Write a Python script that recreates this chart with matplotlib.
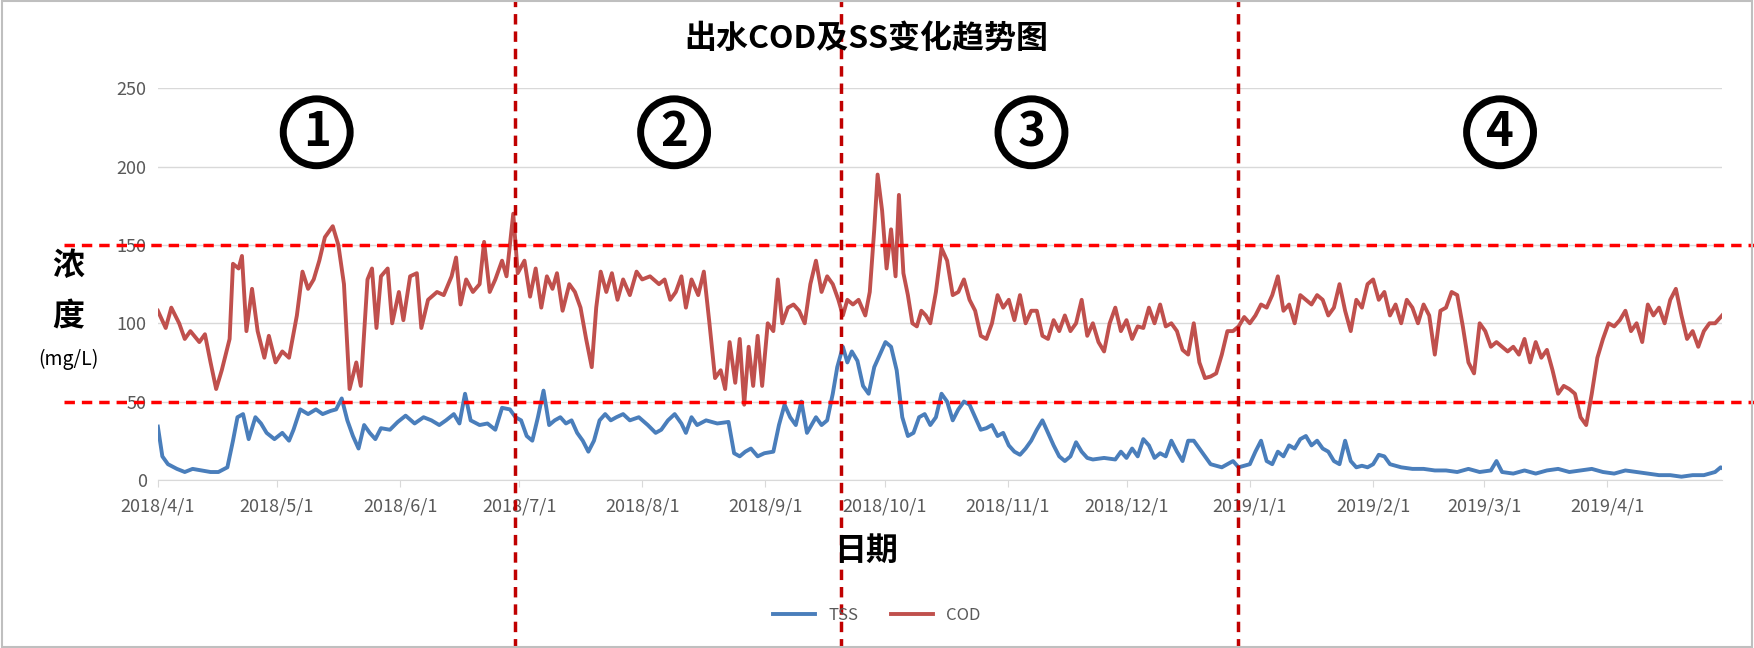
import matplotlib
matplotlib.use("Agg")
import matplotlib.pyplot as plt
import numpy as np
import pandas as pd

plt.rcParams['font.family'] = ['Noto Sans CJK SC', 'DejaVu Sans']

start = pd.Timestamp('2018-04-01')
PX_PER_DAY = 3.542
# readings: (horizontal position measured in reference pixels, value)
cod_px = [141,148,153,160,165,170,178,183,188,193,198,205,208,213,216,220,225,230,236,240,246,252,258,265,270,275,280,285,290,297,302,307,312,318,322,328,332,336,340,346,350,356,360,366,372,376,382,390,396,403,407,411,416,422,428,432,437,442,448,452,458,462,468,473,478,483,488,493,497,502,508,513,518,523,528,532,536,541,546,551,556,562,568,573,580,588,593,598,603,608,612,617,623,628,633,638,643,647,651,656,660,664,668,672,676,680,685,690,694,698,703,708,713,718,723,728,733,738,743,748,752,756,761,766,772,776,780,783,787,791,795,799,802,806,810,814,818,822,826,830,835,840,845,850,855,860,865,870,875,880,885,890,895,900,905,910,915,920,925,930,935,940,945,950,955,960,965,970,975,980,985,990,995,1000,1005,1010,1015,1020,1025,1030,1035,1040,1045,1050,1055,1060,1065,1070,1075,1080,1085,1090,1095,1100,1105,1110,1115,1120,1125,1130,1135,1140,1145,1150,1155,1160,1165,1170,1175,1180,1185,1190,1195,1200,1205,1210,1215,1220,1225,1230,1235,1240,1245,1250,1255,1260,1265,1270,1275,1280,1285,1290,1295,1300,1305,1310,1315,1320,1325,1330,1335,1340,1345,1350,1355,1360,1365,1370,1375,1380,1385,1390,1395,1400,1405,1410,1415,1420,1425,1430,1435,1440,1445,1450,1455,1460,1465,1470,1475,1480,1485,1490,1495,1500,1505,1510,1515,1520,1525,1530,1535,1540]
cod_val = [108,97,110,100,90,95,88,93,75,58,70,90,138,135,143,95,122,95,78,92,75,82,78,105,133,122,128,140,155,162,150,125,58,75,60,128,135,97,130,135,100,120,102,130,132,97,115,120,118,130,142,112,128,120,125,152,120,128,140,130,170,132,140,117,135,110,130,122,132,108,125,120,110,90,72,110,133,120,132,115,128,118,133,128,130,125,128,115,120,130,110,128,118,133,100,65,70,58,88,62,90,48,85,60,92,60,100,95,128,100,110,112,108,100,125,140,120,130,125,115,105,115,112,115,105,120,160,195,172,135,160,130,182,132,118,100,98,108,105,100,120,148,140,118,120,128,115,108,92,90,100,118,110,115,102,118,100,108,108,92,90,102,95,105,95,100,115,92,100,88,82,100,110,95,102,90,98,97,110,100,112,98,100,95,83,80,100,75,65,66,68,80,95,95,98,104,100,105,112,110,118,130,108,112,100,118,115,112,118,115,105,110,125,108,95,115,110,125,128,115,120,105,112,100,115,110,100,112,105,80,108,110,120,118,98,75,68,100,95,85,88,85,82,85,80,90,75,88,78,83,70,55,60,58,55,40,35,55,78,90,100,98,102,108,95,100,88,112,105,110,100,115,122,105,90,95,85,95,100,100,104,108]
tss_px = [141,145,150,158,165,172,180,188,195,203,208,212,217,222,228,233,238,245,252,258,262,268,275,282,288,295,300,305,310,315,320,325,330,335,340,348,355,362,370,378,385,392,398,405,410,415,420,428,435,442,448,455,460,465,470,475,480,485,490,495,500,505,510,515,520,525,530,535,540,545,550,556,562,570,578,585,590,596,602,608,612,617,622,630,640,650,655,660,665,670,676,682,690,695,700,705,710,715,720,728,733,738,743,747,752,756,760,765,770,775,780,785,790,795,800,805,810,815,820,825,830,835,840,845,850,855,860,865,870,875,880,885,890,895,900,905,910,915,920,925,930,935,940,945,950,955,960,965,970,975,985,995,1000,1005,1010,1015,1020,1025,1030,1035,1040,1045,1050,1055,1060,1065,1070,1075,1080,1085,1090,1095,1100,1105,1110,1115,1120,1125,1130,1135,1140,1145,1150,1155,1160,1165,1170,1175,1180,1185,1190,1195,1200,1205,1210,1215,1220,1225,1230,1235,1240,1250,1260,1270,1280,1290,1300,1310,1320,1330,1335,1340,1350,1360,1370,1380,1390,1400,1410,1420,1430,1440,1450,1460,1470,1480,1490,1500,1510,1520,1530,1535,1540]
tss_val = [34,15,10,7,5,7,6,5,5,8,25,40,42,26,40,36,30,26,30,25,32,45,42,45,42,44,45,52,38,28,20,35,30,26,33,32,37,41,36,40,38,35,38,42,36,55,38,35,36,32,46,45,40,38,28,25,40,57,35,38,40,36,38,30,25,18,25,38,42,38,40,42,38,40,35,30,32,38,42,36,30,40,35,38,36,37,17,15,18,20,15,17,18,35,48,40,35,50,30,40,35,38,55,72,85,75,82,76,60,55,72,80,88,85,70,40,28,30,40,42,35,40,55,50,38,45,50,48,40,32,33,35,28,30,22,18,16,20,25,32,38,30,22,15,12,15,24,18,14,13,14,13,18,14,20,15,26,22,14,17,15,25,18,12,25,25,20,15,10,9,8,10,12,8,9,10,18,25,12,10,18,15,22,20,26,28,22,25,20,18,12,10,25,12,8,9,8,10,16,15,10,8,7,7,6,6,5,7,5,6,12,5,4,6,4,6,7,5,6,7,5,4,6,5,4,3,3,2,3,3,5,8,6]

def to_dates(px):
    return [start + pd.Timedelta(days=(p - 141) / PX_PER_DAY) for p in px]

cod_dates = to_dates(cod_px)
tss_dates = to_dates(tss_px)
month_ticks = pd.date_range('2018-04-01', '2019-04-01', freq='MS')
divider_dates = [pd.Timestamp('2018-06-30'), pd.Timestamp('2018-09-20'), pd.Timestamp('2018-12-29')]
phase_labels = ['1', '2', '3', '4']
phase_dates = [pd.Timestamp('2018-05-11'), pd.Timestamp('2018-08-09'), pd.Timestamp('2018-11-07'), pd.Timestamp('2019-03-05')]
limit_lines = [150, 50]

fig = plt.figure(figsize=(17.54, 6.48), dpi=100)
ax = fig.add_axes([0.090, 0.2595, 0.892, 0.604])
ax.plot(tss_dates, tss_val, color='#4A7EBB', lw=2.8, label='TSS')
ax.plot(cod_dates, cod_val, color='#C0504D', lw=2.8, label='COD')
ax.set_xlim(pd.Timestamp('2018-04-01'), pd.Timestamp('2019-04-30'))
ax.set_ylim(0, 250)
ax.set_yticks([0, 50, 100, 150, 200, 250])
ax.set_xticks(month_ticks)
ax.set_xticklabels([f"{d.year}/{d.month}/1" for d in month_ticks])
ax.tick_params(axis='both', colors='#595959', labelsize=13, length=0, pad=8)
ax.tick_params(axis='x', length=5, color='#D9D9D9', direction='out')
ax.grid(axis='y', color='#D9D9D9', lw=1)
for s in ['top', 'right', 'left']:
    ax.spines[s].set_visible(False)
ax.spines['bottom'].set_color('#D9D9D9')
ax.set_axisbelow(True)

for y in limit_lines:
    ax.axhline(y, xmin=-0.06, xmax=1.02, color='#FF0000', ls=(0, (3, 2)), lw=2.5, clip_on=False)
for d in divider_dates:
    ax.axvline(d, ymin=-0.45, ymax=1.25, color='#C00000', ls=(0, (3, 2)), lw=2.5, clip_on=False)
for lab, d in zip(phase_labels, phase_dates):
    ax.text(d, 222, lab, ha='center', va='center', fontsize=34, fontweight='heavy', color='black',
            bbox=dict(boxstyle='circle,pad=0.2', fc='white', ec='black', lw=5))

fig.text(0.494, 0.94, '出水COD及SS变化趋势图', ha='center', va='center', fontsize=23, fontweight='bold')
fig.text(0.494, 0.15, '日期', ha='center', va='center', fontsize=23, fontweight='bold')
fig.text(0.039, 0.59, '浓', ha='center', va='center', fontsize=23, fontweight='bold')
fig.text(0.039, 0.51, '度', ha='center', va='center', fontsize=23, fontweight='bold')
fig.text(0.039, 0.445, '(mg/L)', ha='center', va='center', fontsize=14)
fig.legend(loc='center', bbox_to_anchor=(0.50, 0.05), ncol=2, frameon=False, fontsize=12,
           handlelength=2.5, labelcolor='#595959')
fig.patches.append(plt.Rectangle((0.001, 0.001), 0.998, 0.998, transform=fig.transFigure,
                                 fill=False, ec='#BFBFBF', lw=1.5))
fig.savefig('out.png', dpi=100)
